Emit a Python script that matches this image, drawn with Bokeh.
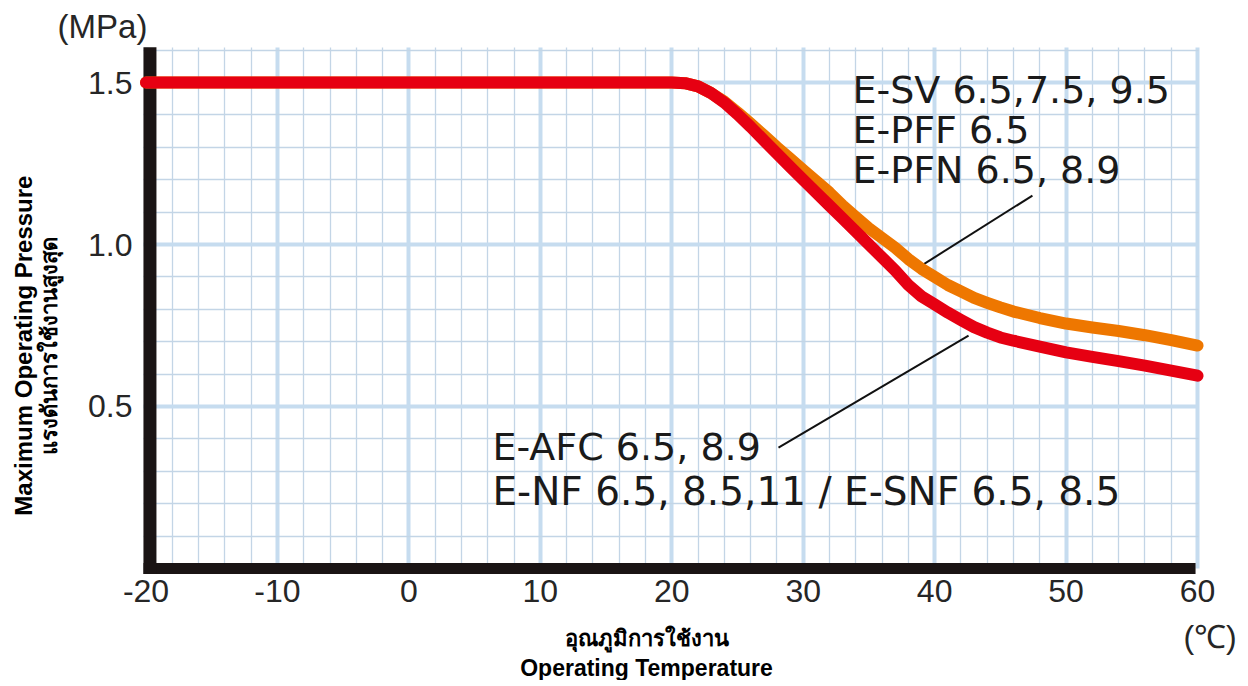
import math
from bokeh.plotting import figure
from bokeh.models import Range1d, FixedTicker, Label
from bokeh.embed import file_html
from bokeh.resources import INLINE

# ---- data ----
temps = [-20, 0, 20, 21, 22, 23, 24, 25, 26, 27, 28, 29, 30, 31, 32, 33, 34, 35,
         36, 37, 38, 39, 40, 41, 42, 43, 44, 45, 46, 48, 50, 52, 54, 56, 58, 60]
red_series = [1.5, 1.5, 1.5, 1.498, 1.488, 1.467, 1.438, 1.402, 1.363, 1.322, 1.281,
              1.24, 1.20, 1.16, 1.12, 1.08, 1.04, 1.00, 0.96, 0.92, 0.875, 0.84,
              0.815, 0.79, 0.767, 0.745, 0.728, 0.713, 0.703, 0.685, 0.667, 0.653,
              0.64, 0.626, 0.611, 0.595]
orange_series = [1.5, 1.5, 1.5, 1.498, 1.488, 1.467, 1.441, 1.408, 1.373, 1.337,
                 1.30, 1.265, 1.23, 1.195, 1.16, 1.12, 1.085, 1.05, 1.02, 0.99,
                 0.955, 0.925, 0.90, 0.875, 0.855, 0.835, 0.82, 0.806, 0.793, 0.773,
                 0.756, 0.744, 0.733, 0.72, 0.705, 0.688]

x_ticks = [-20, -10, 0, 10, 20, 30, 40, 50, 60]
x_tick_labels = ["-20", "-10", "0", "10", "20", "30", "40", "50", "60"]
x_minor = [v for v in range(-20, 61, 2) if v % 10 != 0]
y_ticks = [0.5, 1.0, 1.5]
y_tick_labels = ["0.5", "1.0", "1.5"]
y_minor = [round(v * 0.1, 1) for v in range(1, 17) if v % 5 != 0]

upper_note = ["E-SV 6.5,7.5, 9.5", "E-PFF 6.5", "E-PFN 6.5, 8.9"]
lower_note = ["E-AFC 6.5, 8.9", "E-NF 6.5, 8.5,11 / E-SNF 6.5, 8.5"]
y_unit = "(MPa)"
x_unit = "(℃)"
y_title_th = "แรงดันการใช้งานสูงสุด"
y_title_en = "Maximum Operating Pressure"
x_title_th = "อุณภูมิการใช้งาน"
x_title_en = "Operating Temperature"

# plot-area extent (data units)
X0, X1 = -20, 60
Y0, Y1 = 0.0, 1.607

# ---- figure: frame covers the whole canvas, axes pinned with fixed_location ----
p = figure(width=1240, height=680,
           x_range=Range1d(-31.07, 63.27), y_range=Range1d(-0.3457, 1.7531),
           output_backend="svg", toolbar_location=None,
           min_border_left=0, min_border_right=0,
           min_border_top=0, min_border_bottom=0)
p.outline_line_color = None
p.background_fill_color = "white"
p.border_fill_color = "white"

xt = FixedTicker(ticks=x_ticks, minor_ticks=x_minor)
yt = FixedTicker(ticks=y_ticks, minor_ticks=y_minor)
p.xaxis.ticker = xt
p.yaxis.ticker = yt
p.xaxis.major_label_overrides = dict(zip(x_ticks, x_tick_labels))
p.yaxis.major_label_overrides = dict(zip(y_ticks, y_tick_labels))
p.xaxis.fixed_location = -0.0154
p.yaxis.fixed_location = -20.19

for ax in (p.xaxis, p.yaxis):
    ax.axis_line_color = None
    ax.major_tick_line_color = None
    ax.minor_tick_line_color = None
    ax.major_tick_out = 0
    ax.major_tick_in = 0
    ax.minor_tick_out = 0
    ax.minor_tick_in = 0
    ax.major_label_text_font = "Liberation Sans"
    ax.major_label_text_font_size = "32px"
    ax.major_label_text_color = "#262626"
p.xaxis.major_label_standoff = 7
p.yaxis.major_label_standoff = 11

MAJOR_GRID = "#C6DCEF"
MINOR_GRID = "#C3D5E6"
grid_ok = True
try:
    p.xgrid.cross_bounds = (Y0, Y1)
    p.ygrid.cross_bounds = (-20.19, X1 + 0.1)
except Exception:
    grid_ok = False

if grid_ok:
    p.xgrid.ticker = xt
    p.ygrid.ticker = yt
    for g in (p.xgrid, p.ygrid):
        g.grid_line_color = MAJOR_GRID
        g.grid_line_width = 4
        g.minor_grid_line_color = MINOR_GRID
        g.minor_grid_line_width = 1.3
else:
    p.xgrid.visible = False
    p.ygrid.visible = False
    p.segment(x0=x_minor, y0=[Y0] * len(x_minor), x1=x_minor, y1=[Y1] * len(x_minor),
              line_color=MINOR_GRID, line_width=1.3)
    p.segment(x0=[-20.19] * len(y_minor), y0=y_minor, x1=[X1 + 0.1] * len(y_minor),
              y1=y_minor, line_color=MINOR_GRID, line_width=1.3)
    p.segment(x0=x_ticks, y0=[Y0] * len(x_ticks), x1=x_ticks, y1=[Y1] * len(x_ticks),
              line_color=MAJOR_GRID, line_width=4)
    p.segment(x0=[-20.19] * len(y_ticks), y0=y_ticks, x1=[X1 + 0.1] * len(y_ticks),
              y1=y_ticks, line_color=MAJOR_GRID, line_width=4)

# black axis bars
p.segment(x0=[-20.19], y0=[0], x1=[X1 - 0.15], y1=[0],
          line_color="#1a1414", line_width=11, line_cap="butt")
p.segment(x0=[-19.7], y0=[-0.0170], x1=[-19.7], y1=[Y1 + 0.002],
          line_color="#1a1414", line_width=13, line_cap="butt")

# leader lines
p.segment(x0=[39.0, 28.12], y0=[0.935, 0.373], x1=[47.44, 42.58], y1=[1.151, 0.719],
          line_color="#111111", line_width=2)

# curves
p.line(temps, orange_series, line_color="#EE7700", line_width=12,
       line_join="round", line_cap="round")
p.line(temps, red_series, line_color="#E60012", line_width=12,
       line_join="round", line_cap="round")

# annotations
ann_font = "DejaVu Sans"
for i, t in enumerate(upper_note):
    p.add_layout(Label(x=33.75, y=1.478 - i * 0.1235, text=t, text_font=ann_font,
                       text_font_size="38px", text_color="#1a1a1a",
                       text_baseline="middle", text_align="left"))
for i, t in enumerate(lower_note):
    p.add_layout(Label(x=6.36, y=0.375 - i * 0.136, text=t, text_font=ann_font,
                       text_font_size="38px" if i == 0 else "39px",
                       text_color="#1a1a1a",
                       text_baseline="middle", text_align="left"))

# units
p.add_layout(Label(x=-26.73, y=1.674, text=y_unit, text_font="Liberation Sans",
                   text_font_size="33px", text_color="#262626",
                   text_baseline="middle", text_align="left"))
p.add_layout(Label(x=58.93, y=-0.2114, text=x_unit, text_font="Liberation Sans",
                   text_font_size="32px", text_color="#262626",
                   text_baseline="middle", text_align="left"))

# titles
p.add_layout(Label(x=-29.32, y=0.688, text=y_title_en, angle=math.pi / 2,
                   text_font="Liberation Sans", text_font_style="bold",
                   text_font_size="24px", text_color="black",
                   text_baseline="middle", text_align="center"))
p.add_layout(Label(x=-27.35, y=0.688, text=y_title_th, angle=math.pi / 2,
                   text_font="Liberation Sans", text_font_style="bold",
                   text_font_size="22px", text_color="black",
                   text_baseline="middle", text_align="center"))
p.add_layout(Label(x=18.08, y=-0.216, text=x_title_th,
                   text_font="Liberation Sans", text_font_style="bold",
                   text_font_size="22px", text_color="black",
                   text_baseline="middle", text_align="center"))
p.add_layout(Label(x=18.08, y=-0.306, text=x_title_en,
                   text_font="Liberation Sans", text_font_style="bold",
                   text_font_size="23px", text_color="black",
                   text_baseline="middle", text_align="center"))

open("out.html", "w").write(file_html(p, INLINE))
